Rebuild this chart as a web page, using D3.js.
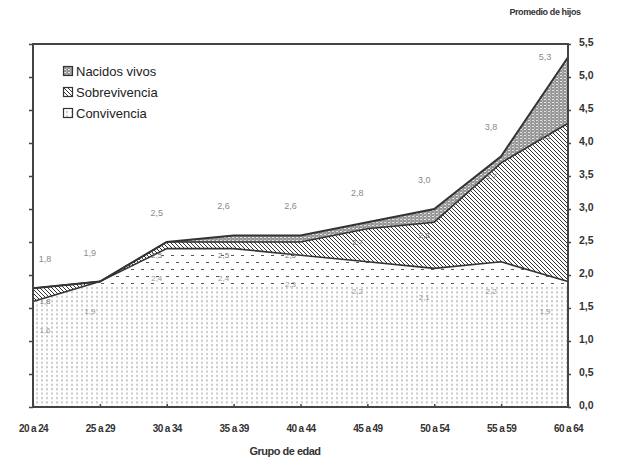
<!DOCTYPE html>
<html><head><meta charset="utf-8">
<script src="https://cdn.jsdelivr.net/npm/d3@7"></script>
<style>body{margin:0;background:#fff}svg{display:block}</style>
</head><body>
<svg id="c" width="632" height="461"></svg>
<script>
const categories = ["20 a 24","25 a 29","30 a 34","35 a 39","40 a 44","45 a 49","50 a 54","55 a 59","60 a 64"];
const nacidosVivos  = [1.8,1.9,2.5,2.6,2.6,2.8,3.0,3.8,5.3];
const sobrevivencia = [1.8,1.9,2.5,2.5,2.5,2.7,2.8,3.7,4.3];
const convivencia   = [1.6,1.9,2.4,2.4,2.3,2.2,2.1,2.2,1.9];
const yTicks = [0,0.5,1,1.5,2,2.5,3,3.5,4,4.5,5,5.5];
const legendNames = ["Nacidos vivos","Sobrevivencia","Convivencia"];

const svg = d3.select("#c");
const L=33,R=568,T=44,B=407;
const x = d3.scalePoint().domain(categories).range([L,R]);
const y = d3.scaleLinear().domain([0,5.5]).range([B,T]);
const fmt = v => d3.format(".1f")(v).replace(".",",");

const defs = svg.append("defs");
// Nacidos vivos pattern
let p = defs.append("pattern").attr("id","pNac").attr("patternUnits","userSpaceOnUse").attr("width",4).attr("height",3);
p.append("rect").attr("width",4).attr("height",3).attr("fill","#969696");
p.append("rect").attr("x",0).attr("y",0).attr("width",2).attr("height",1).attr("fill","#e4e4e4");
p.append("rect").attr("x",2).attr("y",1.5).attr("width",1).attr("height",1).attr("fill","#d0d0d0");
// Sobrevivencia hatch
p = defs.append("pattern").attr("id","pSob").attr("patternUnits","userSpaceOnUse").attr("width",4).attr("height",4);
p.append("rect").attr("width",4).attr("height",4).attr("fill","#fff");
p.append("path").attr("d","M0,0L4,4M-1,3L1,5M3,-1L5,1").attr("stroke","#333").attr("stroke-width",1);
// Convivencia dots
p = defs.append("pattern").attr("id","pConv").attr("patternUnits","userSpaceOnUse").attr("width",5).attr("height",4.4);
p.append("rect").attr("width",5).attr("height",4.4).attr("fill","#fff");
p.append("rect").attr("x",1).attr("y",1).attr("width",2).attr("height",2).attr("fill","#c8c8c8");
// Convivencia dashes (upper band)
p = defs.append("pattern").attr("id","pDash").attr("patternUnits","userSpaceOnUse").attr("width",10).attr("height",14);
p.append("rect").attr("width",10).attr("height",14).attr("fill","#fff");
p.append("rect").attr("x",1).attr("y",3).attr("width",3).attr("height",1).attr("fill","#555");
p.append("rect").attr("x",6).attr("y",10).attr("width",3).attr("height",1).attr("fill","#555");
defs.append("clipPath").attr("id","clipTop").append("rect")
  .attr("x",L).attr("y",T).attr("width",R-L).attr("height",y(1.85)-T);

const idx = d3.range(categories.length);
const area = (lo,hi) => d3.area().x(i=>x(categories[i])).y0(i=>y(lo[i])).y1(i=>y(hi[i]))(idx);
const line = arr => d3.line().x(i=>x(categories[i])).y(i=>y(arr[i]))(idx);
const zero = idx.map(()=>0);

const g = svg.append("g");
g.append("path").attr("d",area(sobrevivencia,nacidosVivos)).attr("fill","url(#pNac)");
g.append("path").attr("d",area(convivencia,sobrevivencia)).attr("fill","url(#pSob)");
g.append("path").attr("d",area(zero,convivencia)).attr("fill","url(#pConv)");
g.append("path").attr("d",area(zero,convivencia)).attr("fill","url(#pDash)").attr("clip-path","url(#clipTop)");
g.append("path").attr("d",line(convivencia)).attr("fill","none").attr("stroke","#333").attr("stroke-width",1.6);
g.append("path").attr("d",line(sobrevivencia)).attr("fill","none").attr("stroke","#333").attr("stroke-width",1.6);
g.append("path").attr("d",line(nacidosVivos)).attr("fill","none").attr("stroke","#333").attr("stroke-width",2);

// value labels
const lab = svg.append("g").attr("font-family","Liberation Sans, Arial, sans-serif").attr("font-size",9).attr("fill","#8a8a8a").attr("text-anchor","middle");
idx.forEach(i=>{
  const cx = x(categories[i]);
  const dx = i===0 ? 12 : (i===idx.length-1 ? -23 : -10);
  lab.append("text").attr("x",cx+dx).attr("y",Math.max(y(nacidosVivos[i])-26, T+16)).text(fmt(nacidosVivos[i]));
  lab.append("text").attr("x",cx+dx).attr("y",Math.min(y(convivencia[i])+32, B-4)).attr("fill","#999").attr("font-size",8).text(fmt(convivencia[i]));
  if(sobrevivencia[i]-convivencia[i]>0.08)
    lab.append("text").attr("x",cx+dx).attr("y",y(sobrevivencia[i])+16).attr("fill","#777").attr("font-size",8).text(fmt(sobrevivencia[i]));
});

// frame
svg.append("rect").attr("x",L).attr("y",T).attr("width",R-L).attr("height",B-T).attr("fill","none").attr("stroke","#444").attr("stroke-width",2);

// left ticks (no labels)
const yl = d3.axisLeft(y).tickValues(yTicks).tickSize(4).tickFormat("");
svg.append("g").attr("transform",`translate(${L},0)`).call(yl).call(s=>{s.select(".domain").remove();s.selectAll("line").attr("stroke","#444").attr("stroke-width",1.5);});
// right axis
const yr = d3.axisRight(y).tickValues(yTicks).tickSize(3).tickPadding(8).tickFormat(fmt);
svg.append("g").attr("transform",`translate(${R},0)`).call(yr).call(s=>{
  s.select(".domain").remove();
  s.selectAll("line").attr("stroke","#444").attr("stroke-width",1.5);
  s.selectAll("text").attr("font-family","Liberation Sans, Arial, sans-serif").attr("font-size",10.5).attr("font-weight","bold").attr("fill","#333").attr("dy","0.1em");
});
// bottom axis
const xb = d3.axisBottom(x).tickSize(-3).tickPadding(18);
svg.append("g").attr("transform",`translate(0,${B})`).call(xb).call(s=>{
  s.select(".domain").remove();
  s.selectAll("line").attr("stroke","#444").attr("stroke-width",1.5);
  s.selectAll("text").attr("font-family","Liberation Sans Narrow, Liberation Sans, Arial, sans-serif").attr("font-size",10).attr("font-weight","bold").attr("fill","#333").attr("letter-spacing","-0.6");
});

svg.append("text").attr("x",285).attr("y",455).attr("text-anchor","middle").attr("font-family","Liberation Sans, Arial, sans-serif").attr("font-size",11).attr("font-weight","bold").attr("fill","#333").attr("letter-spacing","-0.5").text("Grupo de edad");
svg.append("text").attr("x",545).attr("y",15).attr("text-anchor","middle").attr("font-family","Liberation Sans, Arial, sans-serif").attr("font-size",9).attr("font-weight","bold").attr("fill","#333").attr("letter-spacing","-0.4").text("Promedio de hijos");

// legend
const lg = svg.append("g").attr("font-family","Liberation Sans, Arial, sans-serif").attr("font-size",13).attr("fill","#222");
const fills = ["url(#pNac)","url(#pSob)","url(#pConv)"];
legendNames.forEach((n,i)=>{
  const yy = 76 + i*21;
  lg.append("rect").attr("x",63.5).attr("y",yy-9.5).attr("width",9).attr("height",9).attr("fill",fills[i]).attr("stroke","#333").attr("stroke-width",1.2);
  lg.append("text").attr("x",76).attr("y",yy).text(n);
});
</script>
</body></html>
